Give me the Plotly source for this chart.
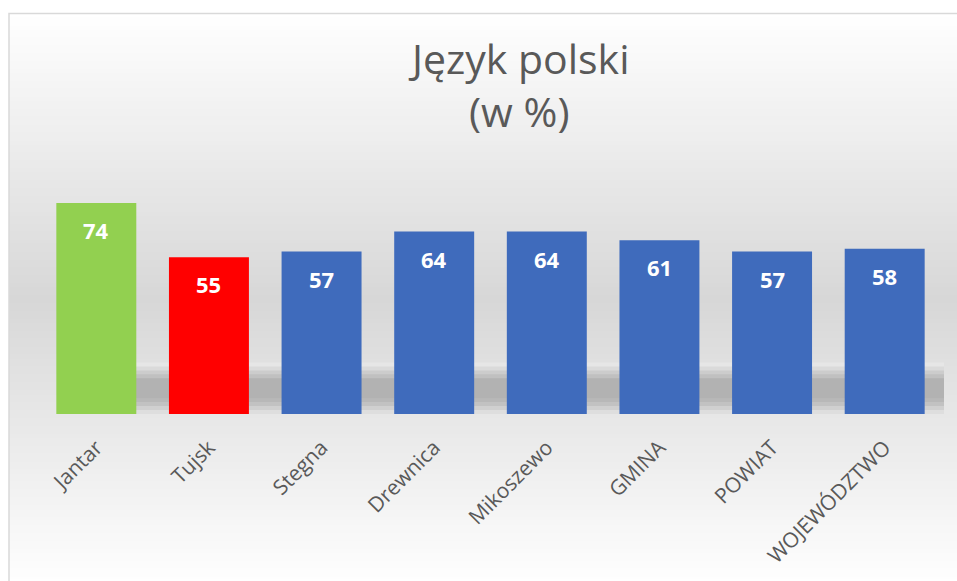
import plotly.graph_objects as go

categories = ["Jantar", "Tujsk", "Stegna", "Drewnica", "Mikoszewo", "GMINA", "POWIAT", "WOJEWÓDZTWO"]
values = [74, 55, 57, 64, 64, 61, 57, 58]
bar_colors = ["#92D050", "#FF0000", "#3F6BBC", "#3F6BBC", "#3F6BBC", "#3F6BBC", "#3F6BBC", "#3F6BBC"]
title_lines = ["Język polski", "(w %)"]

W, H = 957, 581

# desired on-screen plot area
PLOT_L, PLOT_R, PLOT_T, PLOT_B = 40, 941, 186, 416
ML = PLOT_L
MR = W - PLOT_R
MT = PLOT_T
MB = H - PLOT_B
PW, PH = PLOT_R - PLOT_L, PLOT_B - PLOT_T


def px_x(px):
    return (px - PLOT_L) / PW


def px_y(py):
    return (PLOT_B - py) / PH


def grey(v):
    v = int(round(v))
    return f"rgb({v},{v},{v})"


shapes = []
# background gradient: white at top -> grey in middle -> white at bottom
top, mid, bot = 12, 300, 590
step = 4
y = top
while y < H:
    y2 = min(y + step, H)
    c = (y + y2) / 2
    if c <= mid:
        t = (c - top) / (mid - top)
    else:
        t = (bot - c) / (bot - mid)
    v = 255 - t * (255 - 215)
    shapes.append(dict(type="rect", xref="paper", yref="paper", layer="below",
                       x0=px_x(9), x1=px_x(W + 20), y0=px_y(y2 + 1.5), y1=px_y(y),
                       fillcolor=grey(v), line=dict(width=0)))
    y = y2

# soft shadow band behind bars
band = [(364, 368, 230), (368, 372, 218), (372, 376, 204), (376, 380, 192),
        (380, 400, 178), (400, 404, 184), (404, 408, 194), (408, 412, 208),
        (412, 415, 222)]
for y0, y1, v in band:
    shapes.append(dict(type="rect", xref="paper", yref="paper", layer="below",
                       x0=px_x(58), x1=px_x(944), y0=px_y(y1 + 1), y1=px_y(y0),
                       fillcolor=grey(v), line=dict(width=0)))

# chart border
shapes.append(dict(type="rect", xref="paper", yref="paper", layer="above",
                   x0=px_x(9), x1=px_x(W + 40), y0=px_y(H + 40), y1=px_y(12),
                   fillcolor="rgba(0,0,0,0)", line=dict(color="#D9D9D9", width=1.5)))

fig = go.Figure()
fig.add_trace(go.Bar(
    x=categories, y=values,
    marker=dict(color=bar_colors, line=dict(width=0)),
    hoverinfo="x+y",
))

annotations = []
for cat, val in zip(categories, values):
    annotations.append(dict(
        x=cat, y=val, xref="x", yref="y", text=f"<b>{val}</b>", showarrow=False,
        yanchor="middle", yshift=-27,
        font=dict(family="Open Sans", size=22, color="white"),
    ))

title_y = [57, 110]
for line, ty in zip(title_lines, title_y):
    annotations.append(dict(
        x=px_x(519), y=px_y(ty), xref="paper", yref="paper", text=line,
        showarrow=False, xanchor="center", yanchor="middle",
        font=dict(family="Open Sans", size=41, color="#595959"),
    ))

fig.update_layout(
    width=W, height=H,
    margin=dict(l=ML, r=MR, t=MT, b=MB),
    paper_bgcolor="white",
    plot_bgcolor="rgba(0,0,0,0)",
    showlegend=False,
    bargap=0.29,
    xaxis=dict(
        tickangle=-45,
        tickfont=dict(family="Open Sans", size=21, color="#595959"),
        showgrid=False, zeroline=False, showline=False,
        ticks="outside", ticklen=12, tickcolor="rgba(0,0,0,0)",
        fixedrange=True,
    ),
    yaxis=dict(
        range=[0, 80], visible=False, showgrid=False, zeroline=False,
        fixedrange=True,
    ),
    shapes=shapes,
    annotations=annotations,
)

fig.write_html(
    "out.html",
    config={"displayModeBar": False},
    post_script="document.body.style.margin='0';document.body.style.overflow='hidden';",
)
